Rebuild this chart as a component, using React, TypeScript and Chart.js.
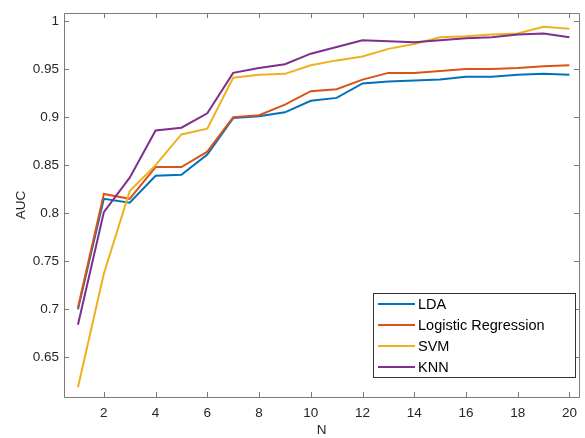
import React, { useEffect, useRef } from "react";
import { Chart, registerables } from "chart.js";

Chart.register(...registerables);

const nValues = [1, 2, 3, 4, 5, 6, 7, 8, 9, 10, 11, 12, 13, 14, 15, 16, 17, 18, 19, 20];
const ldaValues = [0.700, 0.815, 0.811, 0.839, 0.840, 0.861, 0.899, 0.901, 0.905, 0.917, 0.920, 0.935, 0.937, 0.938, 0.939, 0.942, 0.942, 0.944, 0.945, 0.944];
const lrValues = [0.702, 0.820, 0.815, 0.848, 0.848, 0.864, 0.900, 0.902, 0.913, 0.927, 0.929, 0.939, 0.946, 0.946, 0.948, 0.950, 0.950, 0.951, 0.953, 0.954];
const svmValues = [0.619, 0.737, 0.823, 0.850, 0.882, 0.888, 0.941, 0.944, 0.945, 0.954, 0.959, 0.963, 0.971, 0.976, 0.983, 0.984, 0.986, 0.987, 0.994, 0.992];
const knnValues = [0.684, 0.801, 0.837, 0.886, 0.889, 0.904, 0.946, 0.951, 0.955, 0.966, 0.973, 0.980, 0.979, 0.978, 0.980, 0.982, 0.983, 0.986, 0.987, 0.983];

const seriesNames = ["LDA", "Logistic Regression", "SVM", "KNN"];
const seriesColors = ["#0072BD", "#D95319", "#EDB120", "#7E2F8E"];

const xTicks = [2, 4, 6, 8, 10, 12, 14, 16, 18, 20];
const yTicks = [0.65, 0.7, 0.75, 0.8, 0.85, 0.9, 0.95, 1];
const xRange = [0.46, 20.37];
const yRange = [0.6088, 1.0082];

const FONT = '"Liberation Sans", Arial, Helvetica, sans-serif';
const TEXT_COLOR = "#262626";
const AXIS_COLOR = "#7a7a7a";

const boxPlugin = {
  id: "matlabBox",
  beforeDatasetsDraw(chart: any) {
    const { ctx, chartArea } = chart;
    const { left, right, top, bottom } = chartArea;
    const xs = chart.scales.x;
    const ys = chart.scales.y;
    ctx.save();
    ctx.strokeStyle = AXIS_COLOR;
    ctx.lineWidth = 1;
    ctx.beginPath();
    ctx.rect(Math.round(left) + 0.5, Math.round(top) + 0.5, Math.round(right - left), Math.round(bottom - top));
    const tl = 5;
    for (const t of xs.ticks) {
      const px = Math.round(xs.getPixelForValue(t.value)) + 0.5;
      ctx.moveTo(px, bottom);
      ctx.lineTo(px, bottom - tl);
      ctx.moveTo(px, top);
      ctx.lineTo(px, top + tl);
    }
    for (const t of ys.ticks) {
      const py = Math.round(ys.getPixelForValue(t.value)) + 0.5;
      ctx.moveTo(left, py);
      ctx.lineTo(left + tl, py);
      ctx.moveTo(right, py);
      ctx.lineTo(right - tl, py);
    }
    ctx.stroke();

    // axis titles
    ctx.fillStyle = TEXT_COLOR;
    ctx.font = `13.5px ${FONT}`;
    ctx.textAlign = "center";
    ctx.textBaseline = "middle";
    ctx.fillText("N", (left + right) / 2, 430);
    ctx.translate(21, (top + bottom) / 2);
    ctx.rotate(-Math.PI / 2);
    ctx.fillText("AUC", 0, 0);
    ctx.restore();
  },
  afterDraw(chart: any) {
    const { ctx, chartArea } = chart;
    const bx = chartArea.right - 206;
    const bw = 202;
    const by = chartArea.bottom - 104;
    const bh = 84;
    ctx.save();
    ctx.fillStyle = "#ffffff";
    ctx.fillRect(bx, by, bw, bh);
    ctx.strokeStyle = "#333333";
    ctx.lineWidth = 1;
    ctx.strokeRect(Math.round(bx) + 0.5, Math.round(by) + 0.5, bw, bh);
    ctx.font = `14.5px ${FONT}`;
    ctx.textAlign = "left";
    ctx.textBaseline = "middle";
    seriesNames.forEach((name, i) => {
      const cy = by + 11 + i * 21;
      ctx.strokeStyle = seriesColors[i];
      ctx.lineWidth = 2;
      ctx.beginPath();
      ctx.moveTo(bx + 5, cy);
      ctx.lineTo(bx + 42, cy);
      ctx.stroke();
      ctx.fillStyle = "#000000";
      ctx.fillText(name, bx + 45, cy + 1);
    });
    ctx.restore();
  },
};

export default function App() {
  const canvasRef = useRef<HTMLCanvasElement | null>(null);

  useEffect(() => {
    const canvas = canvasRef.current;
    if (!canvas) return;
    const allSeries = [ldaValues, lrValues, svmValues, knnValues];
    const chart = new Chart(canvas, {
      type: "line",
      data: {
        datasets: allSeries.map((vals, i) => ({
          label: seriesNames[i],
          data: nValues.map((n, j) => ({ x: n, y: vals[j] })),
          borderColor: seriesColors[i],
          backgroundColor: seriesColors[i],
          borderWidth: 2,
          pointRadius: 0,
          tension: 0,
          fill: false,
          order: allSeries.length - i,
        })),
      },
      options: {
        animation: false,
        responsive: false,
        devicePixelRatio: 1,
        layout: { padding: { left: 0, top: 7, right: 3, bottom: 0 } },
        plugins: {
          legend: { display: false },
          tooltip: { enabled: false },
          title: { display: false },
        },
        scales: {
          x: {
            type: "linear",
            min: xRange[0],
            max: xRange[1],
            grid: { display: false, drawTicks: false },
            border: { display: false },
            afterBuildTicks: (scale: any) => {
              scale.ticks = xTicks.map((v) => ({ value: v }));
            },
            afterFit: (scale: any) => {
              scale.height = 41;
            },
            ticks: {
              padding: 8,
              color: TEXT_COLOR,
              font: { family: FONT, size: 13.5 },
              maxRotation: 0,
              autoSkip: false,
              callback: (v: any) => String(v),
            },
          },
          y: {
            type: "linear",
            min: yRange[0],
            max: yRange[1],
            grid: { display: false, drawTicks: false },
            border: { display: false },
            afterBuildTicks: (scale: any) => {
              scale.ticks = yTicks.map((v) => ({ value: v }));
            },
            afterFit: (scale: any) => {
              scale.width = 64;
            },
            ticks: {
              padding: 5,
              color: TEXT_COLOR,
              font: { family: FONT, size: 13.5 },
              autoSkip: false,
              callback: (v: any) => String(Number(Number(v).toFixed(2))),
            },
          },
        },
      },
      plugins: [boxPlugin],
    });
    return () => chart.destroy();
  }, []);

  return (
    <div style={{ position: "fixed", left: 0, top: 0, width: 585, height: 438, background: "#ffffff" }}>
      <canvas ref={canvasRef} width={585} height={438} style={{ width: 585, height: 438, display: "block" }} />
    </div>
  );
}
